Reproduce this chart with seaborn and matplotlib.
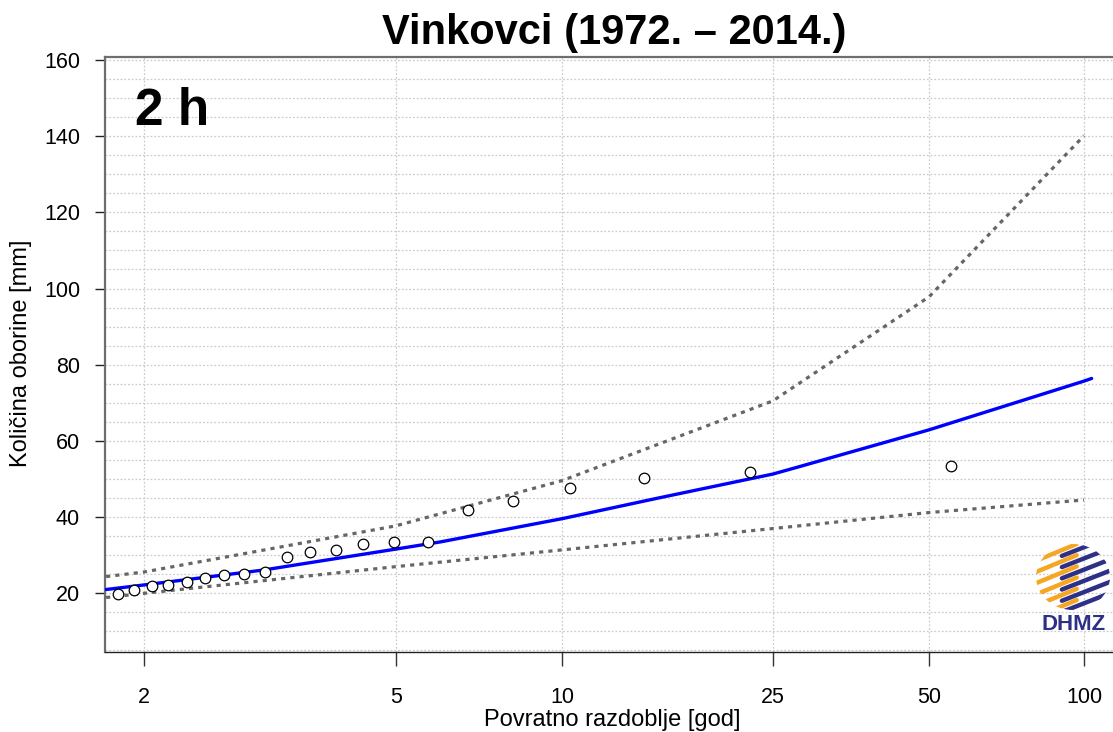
import matplotlib
matplotlib.use("Agg")
import matplotlib.pyplot as plt
from matplotlib.ticker import MultipleLocator, NullLocator
from matplotlib.patches import Circle
import numpy as np
import seaborn as sns

# return period [god] / amount [mm]
obs_T = [1.85, 1.94, 2.05, 2.16, 2.30, 2.44, 2.61, 2.80, 3.02, 3.28, 3.57,
         3.95, 4.39, 4.97, 5.71, 6.71, 8.11, 10.34, 14.2, 22.6, 55.2]
obs_mm = [19.7, 20.9, 22.0, 22.3, 22.9, 24.0, 24.8, 25.1, 25.7, 29.6, 30.8,
          31.4, 32.9, 33.4, 33.6, 41.8, 44.2, 47.6, 50.4, 51.8, 53.4]

fit_T = [1.784, 2, 3, 5, 6, 10, 15, 25, 28.2, 50, 100, 103.5]
fit_mm = [21.0, 22.2, 26.1, 31.6, 33.5, 39.6, 44.9, 51.3, 53.3, 62.9, 75.7, 76.4]

band_T = [1.784, 2, 5, 10, 25, 50, 100]
upper_mm = [24.4, 25.6, 37.7, 49.6, 70.5, 97.8, 140.1]
lower_mm = [18.9, 20.0, 27.0, 31.4, 37.0, 41.2, 44.5]

x_ticks = [2, 5, 10, 25, 50, 100]
y_ticks = [20, 40, 60, 80, 100, 120, 140, 160]


def gumbel(T):
    T = np.asarray(T, dtype=float)
    with np.errstate(divide="ignore", invalid="ignore"):
        return -np.log(-np.log(1.0 - 1.0 / T))


def gumbel_inv(y):
    y = np.asarray(y, dtype=float)
    with np.errstate(over="ignore", divide="ignore"):
        return 1.0 / (1.0 - np.exp(-np.exp(-y)))


sns.set_style("white")
plt.rcParams["font.family"] = ["Liberation Sans", "DejaVu Sans"]
plt.rcParams["text.color"] = "black"
plt.rcParams["axes.labelcolor"] = "black"

fig = plt.figure(figsize=(11.13, 7.32), dpi=100)
ax = fig.add_axes([105 / 1113, 1 - 652 / 732, 1 - 105 / 1113, 595.5 / 732])
ax.set_xscale("function", functions=(gumbel, gumbel_inv))

dots = (0, (1.3, 1.6))
sns.lineplot(x=band_T, y=upper_mm, ax=ax, color="#666666", lw=2.3,
             linestyle=dots, errorbar=None, zorder=2)
sns.lineplot(x=band_T, y=lower_mm, ax=ax, color="#666666", lw=2.3,
             linestyle=dots, errorbar=None, zorder=2)
sns.lineplot(x=fit_T, y=fit_mm, ax=ax, color="#0000ff", lw=2.4,
             errorbar=None, zorder=3)
sns.scatterplot(x=obs_T, y=obs_mm, ax=ax, marker="o", s=58,
                facecolor="white", edgecolor="black", linewidth=0.9, zorder=5)

ax.set_xlim(1.7784, 113.9)
ax.set_ylim(4.6, 160.9)

ax.set_xticks(x_ticks)
ax.set_xticklabels([str(t) for t in x_ticks])
ax.xaxis.set_minor_locator(NullLocator())
ax.set_yticks(y_ticks)
ax.yaxis.set_minor_locator(MultipleLocator(5))

grid_kw = dict(color="#cccccc", linestyle=(0, (1.5, 1.5)), linewidth=0.9)
ax.grid(True, which="both", axis="y", **grid_kw)
ax.grid(True, which="major", axis="x", **grid_kw)
ax.set_axisbelow(True)

ax.tick_params(axis="y", which="major", length=7, width=1, color="#222222",
               pad=11, labelsize=15.5, labelcolor="black", left=True)
ax.tick_params(axis="y", which="minor", length=0)
ax.tick_params(axis="x", which="major", length=10, width=1, color="#333333",
               pad=15, labelsize=15.5, labelcolor="black", bottom=True)

ax.spines["right"].set_visible(False)
for side in ["left", "top"]:
    ax.spines[side].set_color("#6e6e6e")
    ax.spines[side].set_linewidth(1.6)
ax.spines["bottom"].set_color("#222222")
ax.spines["bottom"].set_linewidth(1.0)

ax.set_xlabel("Povratno razdoblje [god]", fontsize=17)
ax.xaxis.set_label_coords(0.503, -0.114)
ax.xaxis.label.set_va("center")
ax.set_ylabel("Količina oborine [mm]", fontsize=17)
ax.yaxis.set_label_coords(-0.0835, 0.501)
ax.yaxis.label.set_va("center")

ax.text(0.0298, 0.885, "2 h", transform=ax.transAxes, fontsize=37,
        fontweight="bold", va="baseline", ha="left", color="black")

fig.text(614 / 1113, 1 - 33 / 732, "Vinkovci (1972. – 2014.)", ha="center",
         va="center", fontsize=30, fontweight="bold", color="black",
         family=["Liberation Sans Narrow", "Liberation Sans", "DejaVu Sans"])

# DHMZ logo (rough)
logo = fig.add_axes([1036 / 1113, 1 - 610 / 732, 74 / 1113, 66 / 732])
logo.set_xlim(0, 1)
logo.set_ylim(0, 1)
logo.axis("off")
globe = Circle((0.5, 0.5), 0.5, transform=logo.transData)
for k in range(7):
    y0 = -0.15 + 0.17 * k
    ln1, = logo.plot([-0.1, 0.55], [y0, y0 + 0.3], color="#f5a623", lw=3.2,
                     solid_capstyle="round")
    ln2, = logo.plot([0.35, 1.1], [y0 - 0.05, y0 + 0.28], color="#2e3087",
                     lw=3.2, solid_capstyle="round")
    ln1.set_clip_path(globe)
    ln2.set_clip_path(globe)
fig.text(1074 / 1113, 1 - 624 / 732, "DHMZ", ha="center", va="center",
         fontsize=16, fontweight="bold", color="#2e3087")

fig.savefig("out.png", dpi=100)
